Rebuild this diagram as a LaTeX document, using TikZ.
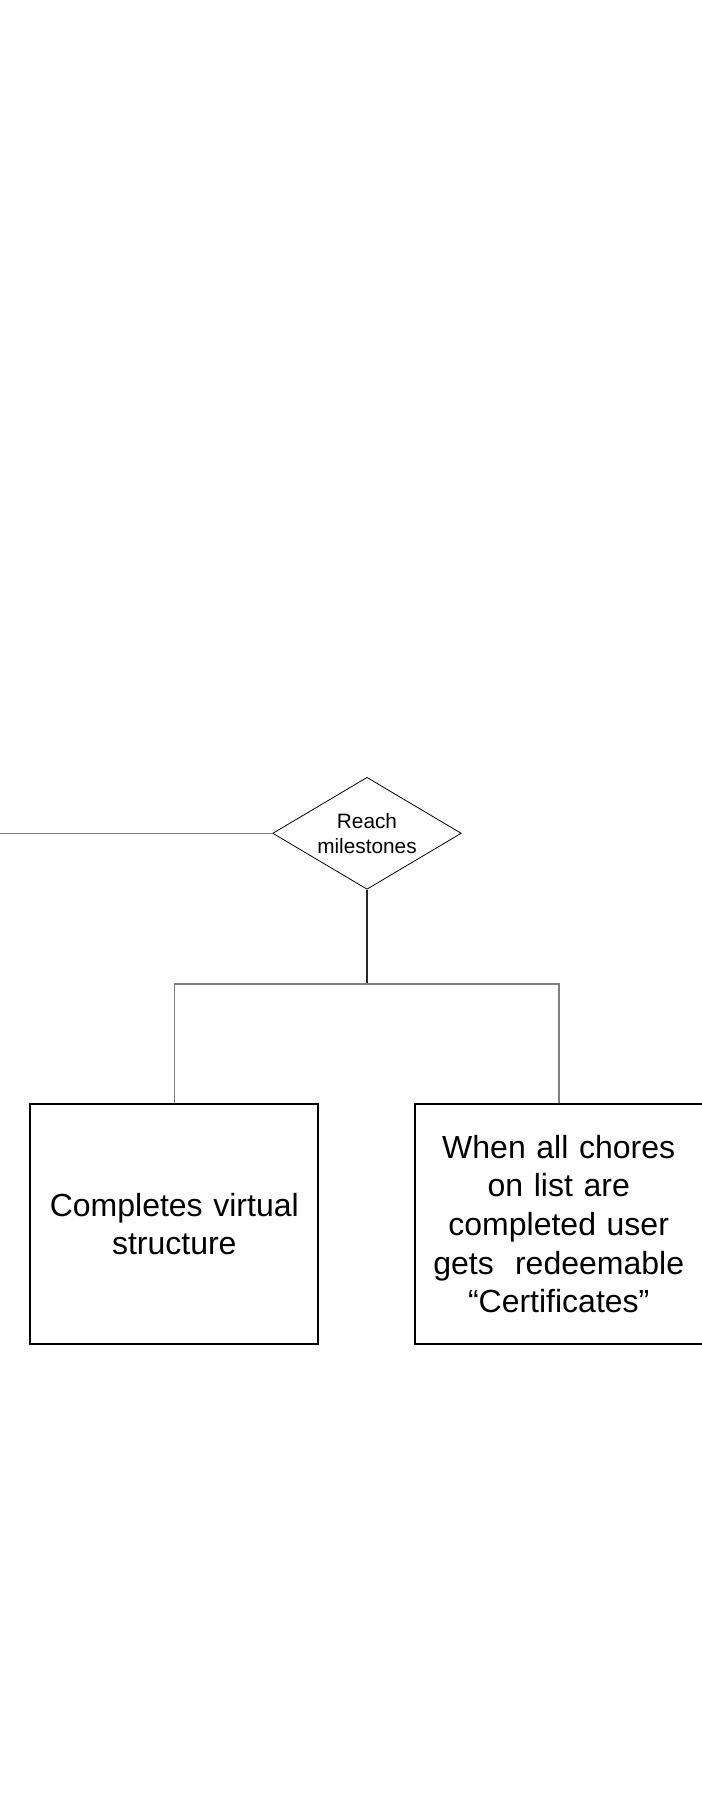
\documentclass[tikz,border=0pt]{standalone}
\usepackage{fontspec}
\setmainfont{Liberation Sans}
\usetikzlibrary{shapes.geometric,positioning}
\definecolor{wirecol}{HTML}{7F7F7F}

\begin{document}
\begin{tikzpicture}[x=0.75pt,y=-0.75pt,
  wire/.style={draw=wirecol, line width=1.2pt},
  stem/.style={draw=black!85, line width=1.1pt},
  goalnode/.style={draw, diamond, aspect=1.69, line width=0.6pt, inner sep=0pt,
    minimum width=141.5pt, minimum height=84pt, align=center,
    font=\fontsize{15.6pt}{18.75pt}\selectfont},
  outcome/.style={draw, line width=1.5pt, minimum width=216pt, minimum height=179.6pt,
    text width=200pt, align=center, font=\fontsize{24pt}{29pt}\selectfont}]
\useasboundingbox (0,0) rectangle (702,1795);

% milestone decision
\node[goalnode] (goal) at (367,833.3) {Reach\\milestones};
\coordinate (entry) at (0,833.3);
\coordinate (fork) at (367,983.7);

% two outcomes
\node[outcome] (virt) at (174.3,1224) {Completes virtual\\structure};
\node[outcome] (cert) at (558.7,1224) {When all chores\\on list are\\completed user\\gets~ redeemable\\“Certificates”};

\draw[wire] (entry) -- (goal.west);
\draw[stem] (goal.south) -- (fork);
\draw[wire] (virt.north) |- (fork) -| (cert.north);
\end{tikzpicture}
\end{document}
